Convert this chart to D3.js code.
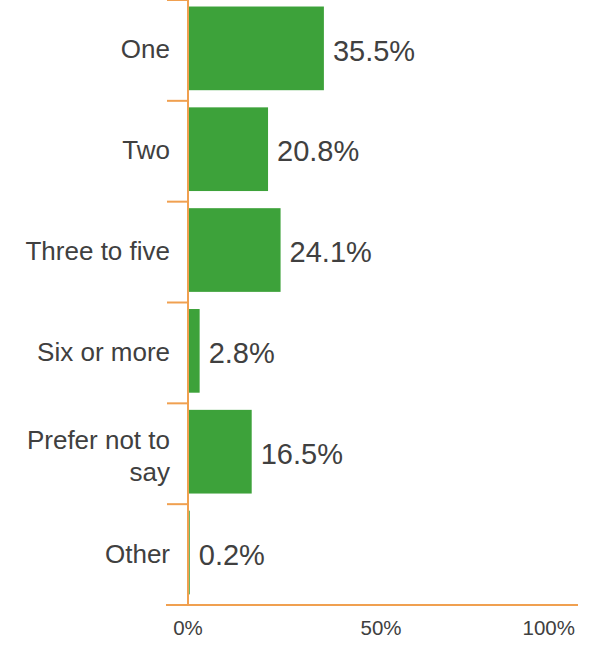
<!DOCTYPE html>
<html>
<head>
<meta charset="utf-8">
<script src="https://cdn.jsdelivr.net/npm/d3@7"></script>
<style>
  body { margin: 0; background: #fff; }
  text { font-family: "Liberation Sans", Arial, sans-serif; }
</style>
</head>
<body>
<script>
// categories and values (percent)
var categories = ["One", "Two", "Three to five", "Six or more", "Prefer not to say", "Other"];
var catLines = [["One"], ["Two"], ["Three to five"], ["Six or more"], ["Prefer not to", "say"], ["Other"]];
var values = [35.5, 20.8, 24.1, 2.8, 16.5, 0.2];
var tickValues = [0, 50, 100];

var width = 596, height = 648;
var x0 = 188, x1 = 568, yTop = 0, yBottom = 605;

var svg = d3.select("body").append("svg")
    .attr("width", width)
    .attr("height", height);

var x = d3.scaleLinear().domain([0, 100]).range([x0, x1]);
var y = d3.scaleBand().domain(categories).range([yTop, yBottom])
    .paddingInner(0.17).paddingOuter(0.085).align(0.38);
var band = d3.scaleBand().domain(categories).range([yTop, yBottom]);

var axisColor = "#f0a050";
var barColor = "#3da23a";
var textColor = "#404040";

// bars
svg.selectAll(".bar")
    .data(values)
    .enter().append("rect")
    .attr("class", "bar")
    .attr("x", x(0) + 1)
    .attr("y", function(d, i) { return y(categories[i]); })
    .attr("width", function(d) { return Math.max(0, x(d) - x(0)); })
    .attr("height", y.bandwidth())
    .attr("fill", barColor);

// value labels
svg.selectAll(".val")
    .data(values)
    .enter().append("text")
    .attr("class", "val")
    .attr("x", function(d) { return x(d) + 10; })
    .attr("y", function(d, i) { return y(categories[i]) + y.bandwidth() / 2; })
    .attr("dy", "0.42em")
    .attr("font-size", 29)
    .attr("fill", textColor)
    .text(function(d) { return d.toFixed(1) + "%"; });

// y axis line and ticks
svg.append("line")
    .attr("x1", x0).attr("x2", x0)
    .attr("y1", yTop).attr("y2", yBottom)
    .attr("stroke", axisColor).attr("stroke-width", 2);

var bounds = categories.map(function(c) { return band(c); }).concat([yBottom]);
svg.selectAll(".ytick")
    .data(bounds)
    .enter().append("line")
    .attr("class", "ytick")
    .attr("x1", 167).attr("x2", x0)
    .attr("y1", function(d) { return d; })
    .attr("y2", function(d) { return d; })
    .attr("stroke", axisColor).attr("stroke-width", 2);

// category labels
var cat = svg.selectAll(".cat")
    .data(categories)
    .enter().append("text")
    .attr("class", "cat")
    .attr("text-anchor", "end")
    .attr("font-size", 26)
    .attr("fill", textColor)
    .attr("y", function(d) { return y(d) + y.bandwidth() / 2 + 10; });

cat.each(function(d, i) {
    var lines = catLines[i];
    var t = d3.select(this);
    lines.forEach(function(l, j) {
        t.append("tspan")
            .attr("x", 170)
            .attr("dy", j === 0 ? -(lines.length - 1) * 16 + (lines.length > 1 ? 3 : 0) : 32)
            .text(l);
    });
});

// x axis line
svg.append("line")
    .attr("x1", 166).attr("x2", 578)
    .attr("y1", yBottom).attr("y2", yBottom)
    .attr("stroke", axisColor).attr("stroke-width", 2);

svg.selectAll(".xtick")
    .data(tickValues)
    .enter().append("text")
    .attr("class", "xtick")
    .attr("x", function(d) { return d === 100 ? x(d) + 7 : x(d) + d * 0.06; })
    .attr("y", 635)
    .attr("text-anchor", function(d) { return d === 100 ? "end" : "middle"; })
    .attr("font-size", 20.5)
    .attr("fill", textColor)
    .text(function(d) { return d + "%"; });
</script>
</body>
</html>
